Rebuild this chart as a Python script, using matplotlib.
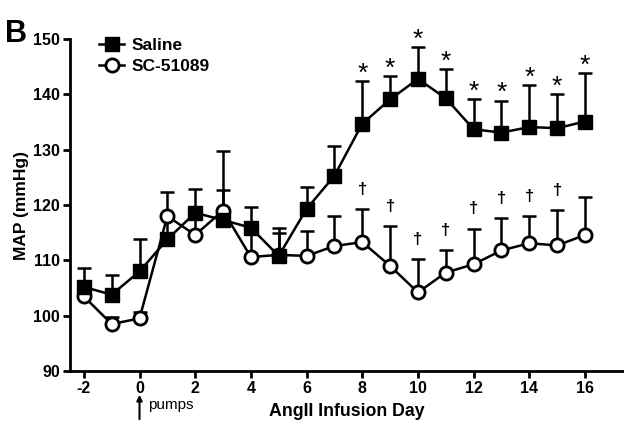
import numpy as np
from matplotlib import pyplot as plt

plt.rcParams['font.family'] = ['Liberation Sans', 'DejaVu Sans']
plt.rcParams['axes.unicode_minus'] = False

# Day of AngII infusion
days = np.arange(-2, 17)

# Mean arterial pressure (mmHg), mean and upper SEM
saline_mean = [105.2, 103.8, 108.0, 113.8, 118.6, 117.3, 115.9, 110.8, 119.3, 125.3,
               134.7, 139.1, 142.8, 139.3, 133.7, 133.1, 134.1, 133.9, 135.1]
saline_sem = [3.4, 3.6, 5.9, 4.5, 4.3, 5.4, 3.7, 5.0, 4.0, 5.3,
              7.7, 4.3, 5.8, 5.3, 5.5, 5.8, 7.6, 6.1, 8.8]

sc_mean = [103.5, 98.5, 99.5, 118.0, 114.6, 119.0, 110.6, 111.0, 110.8, 112.6,
           113.3, 109.0, 104.2, 107.8, 109.3, 111.8, 113.1, 112.7, 114.6]
sc_sem = [2.0, 1.2, 1.2, 4.4, 3.5, 10.7, 5.0, 3.9, 4.5, 5.5,
          5.9, 7.2, 6.0, 4.0, 6.4, 5.8, 4.9, 6.4, 6.8]

# significance markers
star_days = [8, 9, 10, 11, 12, 13, 14, 15, 16]
dagger_days = [8, 9, 10, 11, 12, 13, 14, 15]

saline_mean = np.array(saline_mean)
saline_sem = np.array(saline_sem)
sc_mean = np.array(sc_mean)
sc_sem = np.array(sc_sem)

fig = plt.figure(figsize=(6.24, 4.25), dpi=100)
ax = fig.add_axes([0.112, 0.127, 0.888, 0.781])

# error bars (upper only)
ax.errorbar(days, sc_mean, yerr=[np.zeros_like(sc_sem), sc_sem], fmt='none',
            ecolor='black', elinewidth=1.8, capsize=5, capthick=1.8, zorder=2)
ax.errorbar(days, saline_mean, yerr=[np.zeros_like(saline_sem), saline_sem], fmt='none',
            ecolor='black', elinewidth=1.8, capsize=5, capthick=1.8, zorder=2)

ax.plot(days, sc_mean, color='black', lw=1.8, marker='o', ms=9.5,
        mfc='white', mec='black', mew=2.0, label='SC-51089', zorder=3)
ax.plot(days, saline_mean, color='black', lw=1.8, marker='s', ms=9.5,
        mfc='black', mec='black', label='Saline', zorder=4)

idx = {d: i for i, d in enumerate(days)}
for d in star_days:
    i = idx[d]
    ax.text(d, saline_mean[i] + saline_sem[i] + 1.3, '*', ha='center', va='center',
            fontsize=19)
for d in dagger_days:
    i = idx[d]
    ax.text(d, sc_mean[i] + sc_sem[i] + 3.6, '\u2020', ha='center', va='center',
            fontsize=12, fontweight='bold')

ax.set_xlim(-2.5, 17.4)
ax.set_ylim(90, 150)
ax.set_xticks(np.arange(-2, 17, 2))
ax.set_yticks(np.arange(90, 151, 10))

ax.spines['top'].set_visible(False)
ax.spines['right'].set_visible(False)
ax.spines['left'].set_linewidth(2)
ax.spines['bottom'].set_linewidth(2)
ax.tick_params(width=2, length=5, labelsize=11.5, pad=2)
for lab in ax.get_xticklabels() + ax.get_yticklabels():
    lab.set_fontweight('bold')

ax.set_ylabel('MAP (mmHg)', fontsize=12.5, fontweight='bold', labelpad=3)
ax.set_xlabel('AngII Infusion Day', fontsize=12.8, fontweight='bold', labelpad=5)

# pumps arrow below day 0
ax.annotate('', xy=(0, 86.2), xytext=(0, 80.8), xycoords='data',
            arrowprops=dict(arrowstyle='-|>', color='black', lw=1.5, mutation_scale=8),
            annotation_clip=False)
ax.text(0.3, 83.8, 'pumps', fontsize=11, ha='left', va='center', clip_on=False)

handles, labels = ax.get_legend_handles_labels()
ax.legend(handles[::-1], labels[::-1], loc='upper left', bbox_to_anchor=(0.025, 1.05),
          frameon=False, handlelength=1.4, handletextpad=0.45, labelspacing=0.3,
          prop={'weight': 'bold', 'size': 12.5})

fig.text(0.008, 1 - 42 / 425, 'B', fontsize=22, fontweight='bold', va='baseline')

fig.savefig('out.png', dpi=100)
